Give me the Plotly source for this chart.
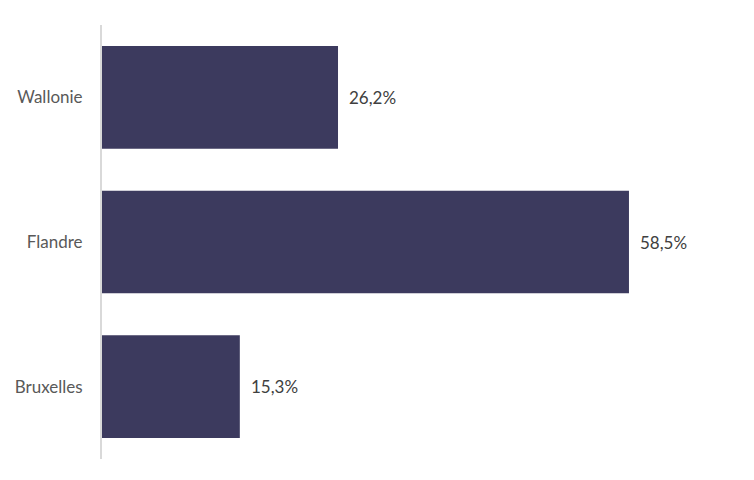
import plotly.graph_objects as go

regions = ["Wallonie", "Flandre", "Bruxelles"]
shares = [26.2, 58.5, 15.3]

FONT = "Lato, Open Sans, sans-serif"

fig = go.Figure()
fig.add_trace(go.Bar(
    y=regions, x=shares, orientation="h",
    marker=dict(color="#3C3A5E", line=dict(width=0)),
    width=0.71,
    textposition="none",
    hoverinfo="skip",
))
for r, v in zip(regions, shares):
    fig.add_annotation(
        x=v, y=r, xref="x", yref="y",
        text=f"{v:.1f}%".replace(".", ","),
        showarrow=False, xanchor="left", xshift=9,
        font=dict(family=FONT, size=17, color="#404040"),
    )

fig.update_layout(
    width=754, height=480,
    margin=dict(l=102, r=30, t=25, b=21),
    plot_bgcolor="white", paper_bgcolor="white",
    showlegend=False,
    xaxis=dict(range=[0, 69.05], visible=False, showgrid=False, zeroline=False, fixedrange=True),
    yaxis=dict(
        categoryorder="array", categoryarray=regions[::-1],
        range=[-0.5, 2.5],
        showline=True, linecolor="#D9D9D9", linewidth=2,
        showgrid=False, zeroline=False, ticks="",
        ticklabelstandoff=14,
        tickfont=dict(family=FONT, size=17, color="#595959"),
    ),
)

fig.write_html(
    "out.html",
    config={"displayModeBar": False, "staticPlot": True},
    post_script="document.body.style.margin='0';document.body.style.padding='0';window.dispatchEvent(new Event('resize'));",
)
